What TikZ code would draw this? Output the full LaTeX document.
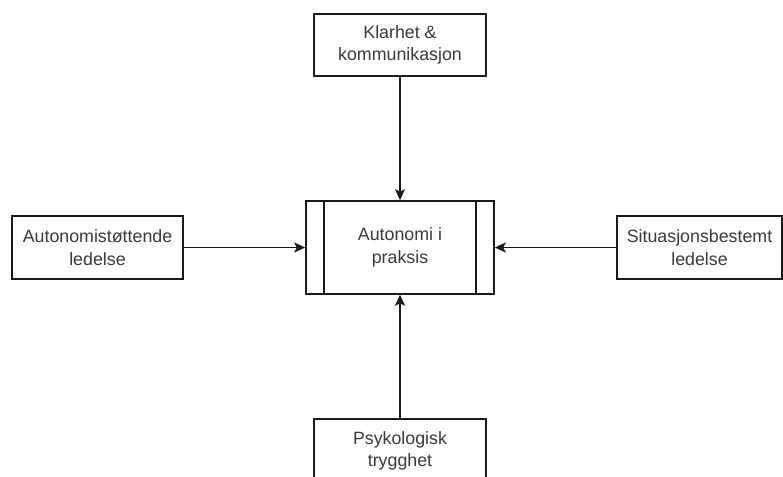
\documentclass[tikz,border=0pt]{standalone}
\usepackage{fontspec}
\setmainfont{Liberation Sans}
\usetikzlibrary{arrows.meta,calc}
\definecolor{linec}{HTML}{1A1A1A}
\definecolor{textc}{HTML}{3A3A3A}
\begin{document}
\begin{tikzpicture}[x=1pt,y=-1pt,
  box/.style={draw=linec, line width=1.6pt, fill=white, align=center,
    font=\fontsize{17.8}{22.5}\selectfont, text=textc, inner sep=0pt,
    rectangle},
  arr/.style={draw=linec, line width=1.6pt, -{Stealth[length=11pt,width=10pt,inset=2.5pt]}}]
\useasboundingbox (0,0) rectangle (783,476);
\node[box, minimum width=172pt, minimum height=62pt] (top) at (400,45) {Klarhet \&\\kommunikasjon};
\node[box, minimum width=188pt, minimum height=93pt] (mid) at (400,247.5) {Autonomi i\\praksis};
\draw[draw=linec, line width=1.6pt] ($(mid.north west)+(19,0)$) -- ($(mid.south west)+(19,0)$);
\draw[draw=linec, line width=1.6pt] ($(mid.north east)+(-19,0)$) -- ($(mid.south east)+(-19,0)$);
\node[box, minimum width=171pt, minimum height=63pt] (left) at (97.5,247.5) {Autonomistøttende\\ledelse};
\node[box, minimum width=165pt, minimum height=63pt] (right) at (699.5,247.5) {Situasjonsbestemt\\ledelse};
\node[box, minimum width=172pt, minimum height=64pt] (bot) at (400,451) {Psykologisk\\trygghet};
\draw[arr] (top) -- (mid);
\draw[arr] (left) -- (mid);
\draw[arr] (right) -- (mid);
\draw[arr] (bot) -- (mid);
\end{tikzpicture}
\end{document}
